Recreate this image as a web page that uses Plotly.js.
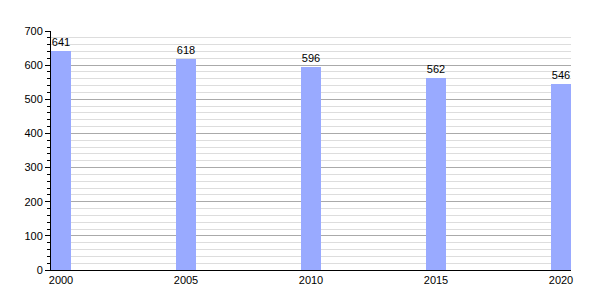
<!DOCTYPE html>
<html>
<head>
<meta charset="utf-8">
<script src="https://cdn.plot.ly/plotly-3.0.1.min.js"></script>
<style>html,body{margin:0;padding:0;background:#fff;}#chart{width:600px;height:300px;}</style>
</head>
<body>
<div id="chart"></div>
<script>
const years = [2000, 2005, 2010, 2015, 2020];
const values = [641, 618, 596, 562, 546];
const yTicks = [0, 100, 200, 300, 400, 500, 600, 700];

const trace = {
  type: 'bar',
  x: years,
  y: values,
  width: 0.8,
  marker: {color: '#99aaff', line: {width: 0}},
  text: values.map(String),
  textposition: 'outside',
  cliponaxis: false,
  textfont: {family: 'Liberation Sans, Arial, sans-serif', size: 11, color: '#000'},
  hoverinfo: 'none'
};

const layout = {
  width: 600, height: 300,
  margin: {l: 51, r: 29, t: 31, b: 30},
  paper_bgcolor: '#fff', plot_bgcolor: '#fff',
  showlegend: false,
  font: {family: 'Liberation Sans, Arial, sans-serif', size: 11, color: '#000'},
  xaxis: {
    range: [1999.6, 2020.4],
    tickmode: 'array', tickvals: years, ticktext: years.map(String),
    showgrid: false, zeroline: false,
    showline: true, linecolor: '#000', linewidth: 1,
    ticks: '', ticklen: 0,
    tickfont: {size: 11}
  },
  yaxis: {
    range: [0, 700],
    tickmode: 'array', tickvals: yTicks,
    showgrid: true, gridcolor: '#aaaaaa', gridwidth: 1,
    zeroline: false,
    showline: true, linecolor: '#000', linewidth: 1,
    ticks: 'outside', ticklen: 5, tickcolor: '#000',
    minor: {dtick: 20, showgrid: true, gridcolor: '#dddddd', gridwidth: 1, ticks: 'outside', ticklen: 3, tickcolor: '#000'},
    tickfont: {size: 11}
  },
  bargap: 0
};

Plotly.newPlot('chart', [trace], layout, {displayModeBar: false, staticPlot: true});
</script>
</body>
</html>
